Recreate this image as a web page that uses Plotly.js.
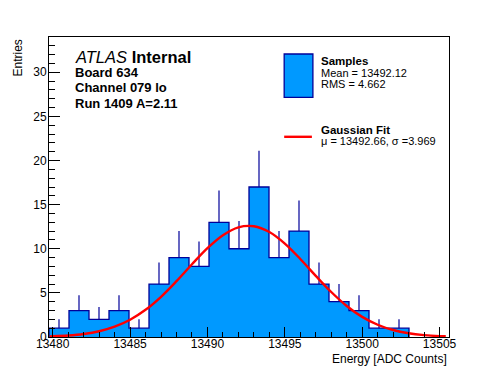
<!DOCTYPE html>
<html>
<head>
<meta charset="utf-8">
<script src="https://cdn.plot.ly/plotly-3.0.1.min.js"></script>
<style>html,body{margin:0;padding:0;background:#fff;}#plot{width:498px;height:374px;}</style>
</head>
<body>
<div id="plot"></div>
<script>
// ---- data ----
const binLow = 13479.76;      // lower edge of first bin
const binWidth = 1.2925;      // bin width (ADC counts)
const counts = [1, 3, 2, 3, 1, 6, 9, 8, 13, 10, 17, 9, 12, 6, 4, 3, 1, 1];
const errUp  = [1, 1.73, 1.41, 1.73, 1, 2.45, 3, 2.83, 3.61, 3.16, 4.12, 3, 3.46, 2.45, 2, 1.73, 1, 1];
const fitX = [13479.8, 13480, 13481, 13482, 13483, 13484, 13485, 13486, 13487, 13488, 13489, 13490,
              13491, 13492, 13493, 13494, 13495, 13496, 13497, 13498, 13499, 13500, 13501, 13502,
              13503, 13504, 13505, 13505.4];
const fitY = [0.07, 0.08, 0.17, 0.34, 0.65, 1.17, 1.96, 3.08, 4.56, 6.33, 8.24, 10.07,
              11.54, 12.43, 12.55, 11.9, 10.59, 8.84, 6.93, 5.10, 3.52, 2.28, 1.39, 0.79,
              0.42, 0.21, 0.10, 0.08];
const xRange = [13479.76, 13505.61];
const yRange = [0, 34];
const legendStats = {
  samples: "Samples", mean: "Mean = 13492.12", rms: "RMS = 4.662",
  fit: "Gaussian Fit", fitPars: "\u03bc = 13492.66, \u03c3 =3.969"
};
const infoLines = ["<i>ATLAS</i> <b>Internal</b>", "<b>Board 634</b>", "<b>Channel 079 lo</b>", "<b>Run 1409 A=2.11</b>"];

// ---- build traces ----
const edges = counts.map((_, i) => binLow + i * binWidth).concat([binLow + counts.length * binWidth]);
const centers = counts.map((_, i) => binLow + (i + 0.5) * binWidth);
const hx = [edges[0]], hy = [0];
counts.forEach((c, i) => { hx.push(edges[i], edges[i + 1]); hy.push(c, c); });
hx.push(edges[edges.length - 1]); hy.push(0);

const FILL = '#0099ff', NAVY = '#000099', FONT = 'Liberation Sans, Arial, Helvetica, sans-serif';

const traces = [
  {x: hx, y: hy, type: 'scatter', mode: 'lines', fill: 'tozeroy', fillcolor: FILL,
   line: {color: NAVY, width: 1.3}, hoverinfo: 'skip', showlegend: false},
  {x: centers, y: counts, type: 'scatter', mode: 'markers',
   marker: {size: 1, color: 'rgba(0,0,0,0)'},
   error_y: {type: 'data', symmetric: false, array: errUp, arrayminus: counts.map(() => 0),
             width: 0, thickness: 1.2, color: NAVY}, showlegend: false},
  {x: fitX, y: fitY, type: 'scatter', mode: 'lines', line: {color: '#ff0000', width: 2.4, shape: 'spline'},
   showlegend: false}
];

// pixel -> paper helpers (plot area 49..448.7 x 37..336.7)
const L = 49, R = 448.7, T = 37, B = 336.7;
const px = x => (x - L) / (R - L);
const py = y => (B - y) / (B - T);

const ann = [];
const infoY = [56.7, 72.3, 87.9, 103.5];
const infoSize = [16.5, 13, 13, 13];
infoLines.forEach((t, i) => ann.push({text: t, xref: 'paper', yref: 'paper', x: px(72.5), y: py(infoY[i]),
  xanchor: 'left', yanchor: 'middle', showarrow: false, font: {family: FONT, size: infoSize[i], color: '#000'}}));

const legTxt = [
  [ '<b>' + legendStats.samples + '</b>', 61.2, 11.5],
  [ legendStats.mean, 73.0, 11],
  [ legendStats.rms, 83.6, 11],
  [ '<b>' + legendStats.fit + '</b>', 130.2, 11.5],
  [ legendStats.fitPars, 141.2, 11]
];
legTxt.forEach(([t, y, s]) => ann.push({text: t, xref: 'paper', yref: 'paper', x: px(318.5), y: py(y),
  xanchor: 'left', yanchor: 'middle', showarrow: false, font: {family: FONT, size: s, color: '#000'}}));

ann.push({text: 'Energy [ADC Counts]', xref: 'paper', yref: 'paper', x: px(448.5), y: py(358.5),
  xanchor: 'right', yanchor: 'middle', showarrow: false, font: {family: FONT, size: 12, color: '#000'}});
ann.push({text: 'Entries', xref: 'paper', yref: 'paper', x: px(18), y: py(37), textangle: -90,
  xanchor: 'center', yanchor: 'top', showarrow: false, font: {family: FONT, size: 12, color: '#000'}});

const shapes = [
  {type: 'rect', xref: 'paper', yref: 'paper', x0: px(284), x1: px(312.7), y0: py(97.3), y1: py(54),
   fillcolor: FILL, line: {color: NAVY, width: 1.3}},
  {type: 'line', xref: 'paper', yref: 'paper', x0: px(284), x1: px(311.7), y0: py(136.7), y1: py(136.7),
   line: {color: '#ff0000', width: 2.4}}
];

const axisCommon = {
  showgrid: false, zeroline: false, showline: true, linecolor: '#000', linewidth: 1, mirror: true,
  ticks: 'inside', tickcolor: '#000', tickwidth: 1,
  tickfont: {family: FONT, size: 12, color: '#000'}
};

const layout = {
  width: 498, height: 374,
  margin: {l: L, r: 498 - R, t: T, b: 374 - B, pad: 0},
  paper_bgcolor: '#fff', plot_bgcolor: '#fff',
  xaxis: Object.assign({}, axisCommon, {range: xRange, tick0: 13480, dtick: 5, ticklen: 10,
    tickformat: 'd', ticklabelstandoff: -4,
    minor: {ticks: 'inside', ticklen: 5, dtick: 1, tick0: 13480, tickcolor: '#000', showgrid: false}}),
  yaxis: Object.assign({}, axisCommon, {range: yRange, tick0: 0, dtick: 5, ticklen: 11,
    ticklabelstandoff: -1,
    minor: {ticks: 'inside', ticklen: 5.5, dtick: 1, tick0: 0, tickcolor: '#000', showgrid: false}}),
  annotations: ann, shapes: shapes, showlegend: false
};

Plotly.newPlot('plot', traces, layout, {displayModeBar: false, staticPlot: true});
</script>
</body>
</html>
